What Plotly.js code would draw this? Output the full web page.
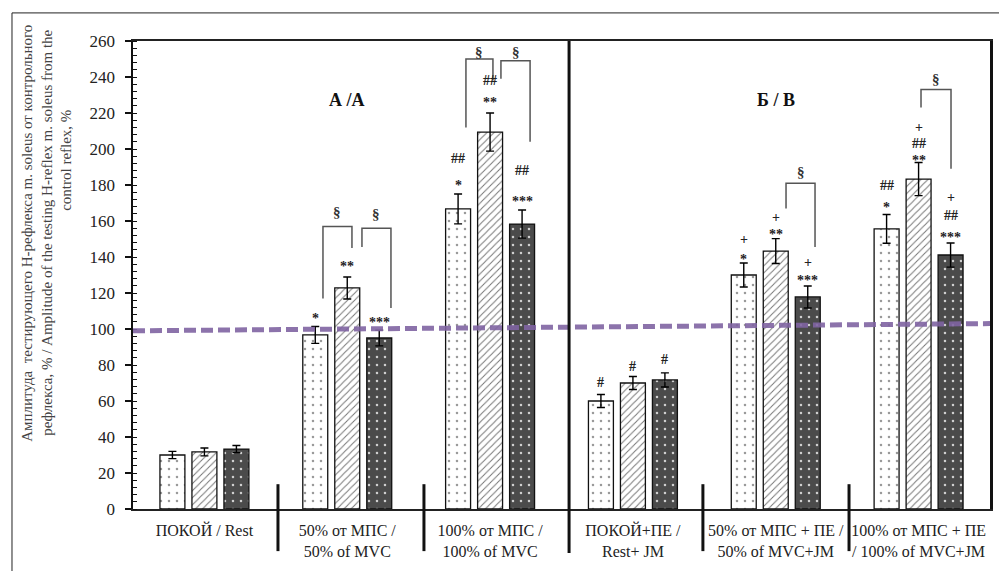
<!DOCTYPE html>
<html><head><meta charset="utf-8">
<script src="https://cdn.plot.ly/plotly-3.0.1.min.js"></script>
<style>html,body{margin:0;padding:0;background:#fff;}#chart{width:999px;height:571px;}</style>
</head><body><div id="chart"></div>
<script>
// ---- data ----
const categories = ['ПОКОЙ / Rest', '50% от МПС / 50% of MVC', '100% от МПС / 100% of MVC',
  'ПОКОЙ+ПЕ / Rest+ JM', '50% от МПС + ПЕ / 50% of MVC+JM', '100% от МПС + ПЕ / 100% of MVC+JM'];
const tickLabels = ['ПОКОЙ / Rest', '50% от МПС /<br>50% of MVC', '100% от МПС /<br>100% of MVC',
  'ПОКОЙ+ПЕ /<br>Rest+ JM', '50% от МПС + ПЕ /<br>50% of MVC+JM', '100% от МПС + ПЕ<br>/ 100% of MVC+JM'];
const series1 = [30, 96.7, 166.7, 60, 130, 155.6];
const err1    = [2, 4.7, 8.3, 3.6, 6.7, 8];
const series2 = [31.7, 122.8, 209.4, 70, 143.3, 183.3];
const err2    = [2.2, 6.1, 10.6, 3.6, 6.9, 9.2];
const series3 = [33.3, 95, 158.3, 71.7, 117.8, 141.1];
const err3    = [2, 4.4, 7.8, 3.9, 6.1, 6.7];
const refLine = [99, 103];
const sectionTitles = ['А /А', 'Б / В'];
const yTitleLines = ['Амплитуда  тестирующего Н-рефлекса m. soleus от контрольного',
  'рефлекса, % / Amplitude of the testing H-reflex m. soleus from the',
  'control reflex, %'];
// significance marks: [group, series, text, value]
const marks = [
  [1,0,'*',108.3],[1,1,'**',137],[1,2,'***',106],
  [2,0,'##',195],[2,0,'*',181.7],[2,1,'##',237.8],[2,1,'**',228.3],[2,2,'##',187.8],[2,2,'***',173.3],
  [3,0,'#',70.5],[3,1,'#',79.4],[3,2,'#',82.8],
  [4,0,'+',150],[4,0,'*',141],[4,1,'+',162],[4,1,'**',155],[4,2,'+',137],[4,2,'***',129],
  [5,0,'##',180],[5,0,'*',170],[5,1,'+',212],[5,1,'##',203],[5,1,'**',196],[5,2,'+',172.8],[5,2,'##',163],[5,2,'***',153]
];
// brackets: [group, leftOffset, rightOffset, leftBottom, top, rightBottom, labelValue]
const brackets = [
  [1,-0.170,0.033,117,157,145,165],
  [1,0.103,0.306,145.5,156,111.7,164],
  [2,-0.169,0.020,212,250,238,254],
  [2,0.076,0.280,239,249,204,254],
  [4,0.072,0.275,167,181,145.5,187],
  [5,0.017,0.227,223,233,189,239]
];
// separators between groups (category positions)
const separators = [0.515, 1.537, 3.49, 4.513];
const mainSeparator = 2.553;

// ---- drawing ----
const idx = categories.map((_, i) => i);
const barOffset = [-0.224, 0, 0.224];
const serif = 'Liberation Serif, Times New Roman, serif';
const toPaperX = v => (v + 0.5) / categories.length;

function barTrace(name, y, e, pattern, color) {
  return {
    type: 'bar', name: name, x: idx, y: y,
    marker: { color: color, line: { color: '#111', width: 1.3 }, pattern: pattern },
    error_y: { type: 'data', array: e, visible: true, color: '#000', thickness: 1.4, width: 4 },
    hoverinfo: 'skip'
  };
}
const traces = [
  barTrace('1', series1, err1, { shape: '.', bgcolor: '#ffffff', fgcolor: '#9a9a9a', size: 8, solidity: 0.08, fillmode: 'replace' }, '#ffffff'),
  barTrace('2', series2, err2, { shape: '/', bgcolor: '#ffffff', fgcolor: '#777777', size: 5, solidity: 0.2, fillmode: 'replace' }, '#ffffff'),
  barTrace('3', series3, err3, { shape: '.', bgcolor: '#4b4b4b', fgcolor: '#d0d0d0', size: 8, solidity: 0.08, fillmode: 'replace' }, '#4b4b4b')
];

const shapes = [];
const annotations = [];

// reference dashed line
shapes.push({ type: 'line', xref: 'paper', yref: 'y', x0: 0, x1: 1, y0: refLine[0], y1: refLine[1],
  line: { color: 'rgba(128,100,162,0.9)', width: 5, dash: '12px,5px' }, layer: 'above' });

// separators
separators.forEach(s => shapes.push({ type: 'line', xref: 'paper', yref: 'paper', x0: toPaperX(s), x1: toPaperX(s),
  y0: 0.053, y1: -0.09, line: { color: '#111', width: 3 } }));
shapes.push({ type: 'line', xref: 'paper', yref: 'paper', x0: toPaperX(mainSeparator), x1: toPaperX(mainSeparator),
  y0: 1, y1: -0.094, line: { color: '#111', width: 3 } });

// outer frame (top & left)
shapes.push({ type: 'path', xref: 'paper', yref: 'paper', path: 'M -0.1412,-0.14 L -0.1412,1.06 L 1.02,1.06',
  line: { color: '#222', width: 1 } });

// brackets
brackets.forEach(b => {
  const g = b[0], xl = g + b[1], xr = g + b[2];
  shapes.push({ type: 'path', xref: 'x', yref: 'y',
    path: `M ${xl},${b[3]} L ${xl},${b[4]} L ${xr},${b[4]} L ${xr},${b[5]}`,
    line: { color: '#555', width: 1.5 }, layer: 'above' });
  annotations.push({ x: (xl + xr) / 2, y: b[6], xref: 'x', yref: 'y', text: '§', showarrow: false,
    font: { family: serif, size: 15, color: '#333', weight: 'bold' } });
});

// significance marks
marks.forEach(m => {
  const isStar = m[2].indexOf('*') >= 0;
  annotations.push({ x: m[0] + barOffset[m[1]], y: m[3], xref: 'x', yref: 'y', text: m[2], showarrow: false,
    yshift: isStar ? -4 : 0,
    font: { family: serif, size: 14, color: '#222', weight: 'bold' } });
});

// section titles
annotations.push({ x: 1, y: 227, xref: 'x', yref: 'y', text: sectionTitles[0], showarrow: false,
  font: { family: serif, size: 18, color: '#111', weight: 'bold' } });
annotations.push({ x: 4, y: 227, xref: 'x', yref: 'y', text: sectionTitles[1], showarrow: false,
  font: { family: serif, size: 18, color: '#111', weight: 'bold' } });

// y-axis title, three lines
const yTitlePos = [[-0.1237, 0.590], [-0.1004, 0.590], [-0.0782, 0.746]];
yTitleLines.forEach((t, i) => annotations.push({ xref: 'paper', yref: 'paper', x: yTitlePos[i][0], y: yTitlePos[i][1],
  text: t, textangle: -90, showarrow: false, xanchor: 'center', yanchor: 'middle',
  font: { family: serif, size: 15, color: '#444' } }));

const layout = {
  width: 999, height: 571,
  margin: { l: 133, r: 9, t: 41, b: 62, pad: 0 },
  paper_bgcolor: '#ffffff', plot_bgcolor: '#ffffff',
  barmode: 'group', bargap: 0.328, bargroupgap: 0.22,
  showlegend: false,
  font: { family: serif, color: '#222' },
  xaxis: { range: [-0.5, 5.5], tickvals: idx, ticktext: tickLabels, showgrid: false, zeroline: false,
    showline: true, linecolor: '#222', linewidth: 2, mirror: true, ticks: '',
    tickfont: { family: serif, size: 16, color: '#222' }, ticklabelstandoff: 6, fixedrange: true },
  yaxis: { range: [0, 260], tick0: 0, dtick: 20, showgrid: false, zeroline: false,
    showline: true, linecolor: '#111', linewidth: 2.5, mirror: true,
    ticks: 'outside', ticklen: 6, tickwidth: 1.5, tickcolor: '#111',
    minor: { dtick: 4, ticks: 'inside', ticklen: 4, tickwidth: 1, tickcolor: '#111' },
    tickfont: { family: serif, size: 17, color: '#222' }, ticklabelstandoff: 6, fixedrange: true },
  shapes: shapes, annotations: annotations
};

Plotly.newPlot('chart', traces, layout, { displayModeBar: false, staticPlot: true });
</script></body></html>
